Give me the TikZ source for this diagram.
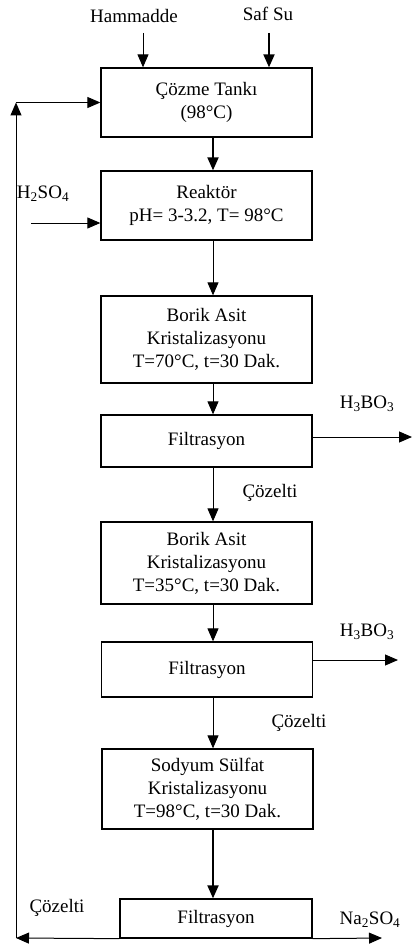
\documentclass[tikz,border=0pt]{standalone}
\usepackage{fontspec}
\setmainfont{Liberation Serif}
\usetikzlibrary{arrows.meta,calc}
\begin{document}
\begin{tikzpicture}[x=1pt,y=-1pt,
  box/.style={draw,line width=1.3pt,inner sep=0pt,align=center,minimum width=211pt,font=\fontsize{19}{23}\selectfont},
  lbl/.style={inner sep=0pt,font=\fontsize{19}{23}\selectfont},
  arr/.style={line width=1pt,-{Triangle[width=11pt,length=13pt]}},
  heavyarr/.style={line width=2pt,-{Triangle[width=11pt,length=13pt]}},
  line/.style={line width=1.3pt}
]
\useasboundingbox (0,0) rectangle (413,947);
% boxes
\node[box,minimum height=69pt] (c1) at (206.5,102.5) {Çözme Tankı\\(98°C)};
\node[box,minimum height=69pt] (r) at (206.5,205.5) {Reaktör\\pH= 3-3.2, T= 98°C};
\node[box,minimum height=87pt] (b1) at (206.5,339.5) {Borik Asit\\Kristalizasyonu\\T=70°C, t=30 Dak.};
\node[box,minimum height=52pt] (f1) at (206.5,441) {Filtrasyon};
\node[box,minimum height=82pt] (b2) at (206.5,563) {Borik Asit\\Kristalizasyonu\\T=35°C, t=30 Dak.};
\node[box,minimum height=55pt] (f2) at (207,669.5) {Filtrasyon};
\node[box,minimum height=80pt] (s) at (207.5,789) {Sodyum Sülfat\\Kristalizasyonu\\T=98°C, t=30 Dak.};
\node[box,minimum width=192pt,minimum height=39pt] (f3) at (216,918.5) {Filtrasyon};
% labels
\node[lbl] (lh) at (134,16) {Hammadde};
\node[lbl] (ls) at (268,14) {Saf Su};
\node[lbl] (la) at (43,194) {H\textsubscript{2}SO\textsubscript{4}};
\node[lbl] (lb1) at (367,404) {H\textsubscript{3}BO\textsubscript{3}};
\node[lbl] (lb2) at (367,632) {H\textsubscript{3}BO\textsubscript{3}};
\node[lbl] (lc1) at (270,493) {Çözelti};
\node[lbl] (lc2) at (299,723) {Çözelti};
\node[lbl] (lc3) at (57,908) {Çözelti};
\node[lbl] (ln) at (370,920) {Na\textsubscript{2}SO\textsubscript{4}};
% helper coordinates
\coordinate (axis) at (213,0);
\coordinate (hmtop) at (143,33);
\coordinate (sftop) at (269,33);
\coordinate (hin) at (31,223);
\coordinate (bl) at (16,938);
\coordinate (br) at (382,938);
\coordinate (out1) at (412,437);
\coordinate (out2) at (398,660);
% inputs
\draw[arr] (hmtop) -- (hmtop |- c1.north);
\draw[heavyarr] (sftop) -- (sftop |- c1.north);
\draw[arr] (hin) -- (hin -| r.west);
% main flow
\draw[heavyarr] (c1.south -| axis) -- (r.north -| axis);
\draw[arr] (r.south -| axis) -- (b1.north -| axis);
\draw[arr] (b1.south -| axis) -- (f1.north -| axis);
\draw[arr] (f1.south -| axis) -- (b2.north -| axis);
\draw[arr] (b2.south -| axis) -- (f2.north -| axis);
\draw[arr] (f2.south -| axis) -- (s.north -| axis);
\draw[heavyarr] (s.south -| axis) -- (f3.north -| axis);
% outputs
\draw[arr] (out1 -| f1.east) -- (out1);
\draw[arr] (out2 -| f2.east) -- (out2);
\draw[arr] (f3.south west) -- (bl);
\draw[arr] (f3.south east) -- (br);
% recycle
\draw[arr] (bl) -- (c1.west -| bl);
\draw[arr] (c1.west -| bl) -- (c1.west);
\end{tikzpicture}
\end{document}
